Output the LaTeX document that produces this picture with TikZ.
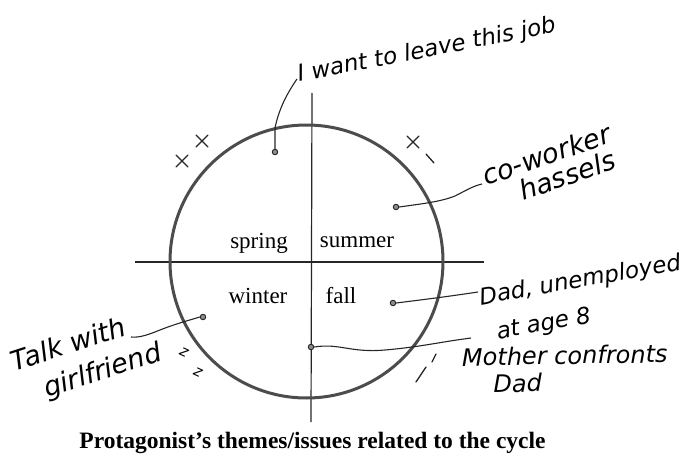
\documentclass[tikz,border=0pt]{standalone}
\usepackage{fontspec}
\setmainfont{Liberation Serif}
\newfontfamily\hand{DejaVu Sans}
\begin{document}
\begin{tikzpicture}[x=1pt,y=-1pt,
  season/.style={font=\fontsize{23}{25}\selectfont, anchor=base, inner sep=0pt},
  handtext/.style 2 args={font=\hand\itshape\fontsize{#1}{#2}\selectfont, anchor=base west, inner sep=0pt, align=left},
  leader/.style={line width=1.1pt, black!85},
  dotmark/.style={circle, draw=black!85, fill=black!45, line width=0.9pt, minimum size=5.5pt, inner sep=0pt},
  tick/.style={line width=1.3pt, black!85, line cap=round},
  zmark/.style={font=\hand\itshape\fontsize{15}{15}\selectfont, rotate=-25, inner sep=0pt}]
\useasboundingbox (0,0) rectangle (689,455);
% axes
\coordinate (vtop) at (312,93);
\coordinate (vbot) at (311,422);
\coordinate (hl) at (135,262);
\coordinate (hr) at (484,262);
\draw[line width=1.2pt, black!85] (vtop) -- (vbot);
\draw[line width=1.2pt, black!85] (hl) -- (hr);
% cycle circle
\coordinate (c) at (306.5,261.5);
\draw[line width=3pt, black!70] (c) circle [radius=136.5];
% seasons
\node[season] (spring) at (259,248) {spring};
\node[season] (summer) at (357,247) {summer};
\node[season] (winter) at (258,303) {winter};
\node[season] (fall) at (341,303) {fall};
% dots
\node[dotmark] (d1) at (275,152) {};
\node[dotmark] (d2) at (396,207) {};
\node[dotmark] (d3) at (393,303) {};
\node[dotmark] (d4) at (311,347) {};
\node[dotmark] (d5) at (203,317) {};
% labels (anchor = start of the last line's baseline, before indent)
\node[handtext={23}{25}, rotate=11] (job) at (299,82) {I want to leave this job};
\node[handtext={27}{26}, rotate=19] (cow) at (494.5,210.5) {co-worker\\\hspace*{30pt}hassels};
\node[handtext={23}{36.5}, rotate=10] (dad1) at (487,341) {Dad, unemployed\\\hspace*{11pt}at age 8};
\node[handtext={24}{27}, rotate=1] (moth) at (462.5,393) {Mother confronts\\\hspace*{31pt}Dad};
\node[handtext={27}{35}, rotate=18] (talk) at (25,405) {Talk with\\\hspace*{23pt}girlfriend};
\node[zmark] (z1) at (184,352) {z};
\node[zmark] (z2) at (198,372) {z};
% leader ends
\coordinate (e1) at (297,79);
\coordinate (e2) at (482,184);
\coordinate (e3) at (478,292);
\coordinate (e4) at (471,338);
\coordinate (e5) at (131,337);
% leaders
\draw[leader] (d1.north) -- (275,128) .. controls (279,108) and (288,92) .. (e1);
\draw[leader] (d2.east) .. controls (420,204) and (440,202) .. (455,196) .. controls (465,191) and (473,186) .. (e2);
\draw[leader] (d3.east) .. controls (420,300) and (445,297) .. (e3);
\draw[leader] (d4.east) .. controls (340,343) and (350,353) .. (385,350) .. controls (420,347) and (440,342) .. (e4);
\draw[leader] (d5.west) .. controls (190,320) and (175,324) .. (160,330) .. controls (150,334) and (140,338) .. (e5);
% tick marks
\draw[tick] (176,155) -- (188,167) (176,167) -- (188,155);
\draw[tick] (196,135) -- (208,147) (196,147) -- (208,135);
\draw[tick] (407,136) -- (419,148) (407,148) -- (419,136);
\draw[tick] (426,154) -- (434,163);
\draw[tick] (432,362) -- (436,354);
\draw[tick] (416,382) -- (426,367);
% caption
\node[font=\bfseries\fontsize{23.5}{26}\selectfont, anchor=base, inner sep=0pt] (cap) at (312.5,448) {Protagonist's themes/issues related to the cycle};
\end{tikzpicture}
\end{document}
